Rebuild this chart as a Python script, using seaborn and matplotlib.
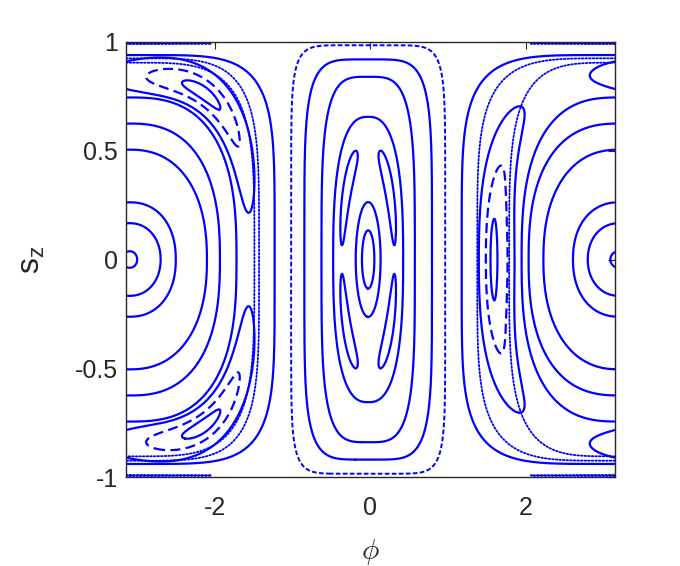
import numpy as np
import matplotlib
matplotlib.use("Agg")
import matplotlib.pyplot as plt
import seaborn as sns
import contourpy

# ------------------------------------------------------------------
# Values
# ------------------------------------------------------------------
# orbits around the centre at (phi, s_z) = (pi, 0)  (wrapping through +/- pi)
PI_CENTER = np.pi + 0.05
pi_halfwidth_left = [0.094, 0.395, 0.59, 0.99, 1.157, 1.37, 1.86]
pi_halfwidth_right = [0.11, 0.40, 0.59, 0.97, 1.16, 1.25, 2.02]
pi_halfheight = [0.038, 0.167, 0.263, 0.505, 0.625, 0.745, 0.94]
pi_shape = [2.0, 2.1, 2.2, 2.3, 2.5, 2.7, 5.0]

# dotted chaotic layer around the pi-family
layer_halfwidth_left = [1.60, 1.66]
layer_halfwidth_right = [1.41, 1.82]
layer_halfheight = [0.905, 0.925]
layer_shape = [4.0, 4.5]

# dotted orbit hugging the poles (top and bottom edge)
pole_halfwidth_left = [1.09, 1.09]
pole_halfwidth_right = [1.18, 1.18]
pole_level = [0.993, -0.993]
pole_thickness = [0.0025, 0.0025]

# orbits around the centre at (0, 0)
C_CENTER = -0.03
c_halfwidth = [0.08, 0.16, 0.45, 0.60, 0.82, 0.99]
c_halfheight = [0.134, 0.264, 0.656, 0.84, 0.92, 0.985]
c_shape = [2.0, 2.0, 2.6, 3.8, 5.0, 8.0]
c_style = ["solid", "solid", "solid", "solid", "solid", "fine"]

# period-4 island chain around (0, 0) (polar: angle, half-span, radius, half-width)
C_ZSCALE = 1.55
c_isl_angle = [0.646, 2.496, -2.496, -0.646]
c_isl_anglew = [0.52, 0.52, 0.52, 0.52]
c_isl_radius = [0.34, 0.34, 0.34, 0.34]
c_isl_radiusw = [0.045, 0.045, 0.045, 0.045]

# period-3 island chain around (pi, 0)
P_ZSCALE = 0.55
p3_angle = [1.03, -1.03, np.pi, 0.986, -0.986, np.pi, 1.015, -1.015, np.pi]
p3_anglew = [0.78, 0.78, 0.80, 0.16, 0.16, 0.21, 0.42, 0.42, 0.48]
p3_radius = [1.54, 1.54, 1.57, 1.525, 1.525, 1.605, 1.53, 1.53, 1.57]
p3_radiusw = [0.17, 0.17, 0.23, 0.05, 0.05, 0.045, 0.10, 0.10, 0.14]
p3_style = ["solid"] * 6 + ["dashed"] * 3

x_ticks = [-2, 0, 2]
y_ticks = [-1, -0.5, 0, 0.5, 1]
y_ticklabels = ["-1", "-0.5", "0", "0.5", "1"]

# ------------------------------------------------------------------
sns.set_theme(style="white")
plt.rcParams["font.family"] = ["Liberation Sans", "DejaVu Sans"]
plt.rcParams["axes.unicode_minus"] = False

phi = np.linspace(-np.pi, np.pi, 1700)
sz = np.linspace(-1.0, 1.0, 1300)
PHI, SZ = np.meshgrid(phi, sz)


def wrap(a):
    return (a + np.pi) % (2 * np.pi) - np.pi


D_PI = wrap(PHI - PI_CENTER)
D_C = PHI - C_CENTER


def superellipse(d, aL, aR, b, p, z0=0.0):
    a = np.where(d >= 0, aL, aR)
    return np.abs(d / a) ** p + np.abs((SZ - z0) / b) ** p


def island(d, zscale, p, r0, rw, th0, thw):
    v = SZ / zscale
    r = (np.abs(d) ** p + np.abs(v) ** p) ** (1.0 / p)
    th = np.arctan2(v, d)
    dth = wrap(th - th0)
    return ((r - r0) / rw) ** 2 + (dth / thw) ** 2


STYLES = {
    "solid": dict(linestyle="-", linewidth=1.6),
    "dashed": dict(linestyle=(0, (4.5, 2.4)), linewidth=1.6),
    "fine": dict(linestyle=(0, (2.4, 1.2)), linewidth=1.4),
    "dotted": dict(linestyle=(0, (0.9, 1.1)), linewidth=1.3, dash_capstyle="round"),
}

fig = plt.figure(figsize=(6.8, 5.66), dpi=100)
ax = fig.add_axes([0.1853, 0.1572, 0.7191, 0.7686])


def draw(F, style):
    gen = contourpy.contour_generator(phi, sz, F, line_type="Separate")
    for seg in gen.lines(1.0):
        if len(seg) < 2:
            continue
        sns.lineplot(x=seg[:, 0], y=seg[:, 1], sort=False, estimator=None,
                     ax=ax, color="#0000ff", **STYLES[style])


for aL, aR, b, p in zip(pi_halfwidth_left, pi_halfwidth_right, pi_halfheight, pi_shape):
    draw(superellipse(D_PI, aL, aR, b, p), "solid")

for aL, aR, b, p in zip(layer_halfwidth_left, layer_halfwidth_right, layer_halfheight, layer_shape):
    draw(superellipse(D_PI, aL, aR, b, p), "dotted")

for aL, aR, z0, t in zip(pole_halfwidth_left, pole_halfwidth_right, pole_level, pole_thickness):
    draw(superellipse(D_PI, aL, aR, t, 2.0, z0), "dotted")

for a, b, p, st in zip(c_halfwidth, c_halfheight, c_shape, c_style):
    draw(superellipse(D_C, a, a, b, p), st)

for th0, thw, r0, rw in zip(c_isl_angle, c_isl_anglew, c_isl_radius, c_isl_radiusw):
    draw(island(D_C, C_ZSCALE, 2.0, r0, rw, th0, thw), "solid")

for th0, thw, r0, rw, st in zip(p3_angle, p3_anglew, p3_radius, p3_radiusw, p3_style):
    draw(island(D_PI, P_ZSCALE, 3.0, r0, rw, th0, thw), st)

ax.set_xlim(-np.pi, np.pi)
ax.set_ylim(-1, 1)
ax.set_xticks(x_ticks)
ax.set_xticklabels([str(t) for t in x_ticks])
ax.set_yticks(y_ticks)
ax.set_yticklabels(y_ticklabels)
ax.tick_params(direction="in", length=5, width=0.8, top=True, right=True,
               labelsize=18, colors="#262626", pad=6)
ax.tick_params(axis="x", pad=14)
for s in ax.spines.values():
    s.set_color("#262626")
    s.set_linewidth(1.0)
    s.set_visible(True)

ax.set_xlabel(r"$\phi$", fontsize=21, math_fontfamily="cm", color="#262626", labelpad=12)
ax.set_ylabel(r"$\mathregular{s_z}$", fontsize=23, color="#262626", labelpad=20)

fig.savefig("out.png", dpi=100, facecolor="white")
